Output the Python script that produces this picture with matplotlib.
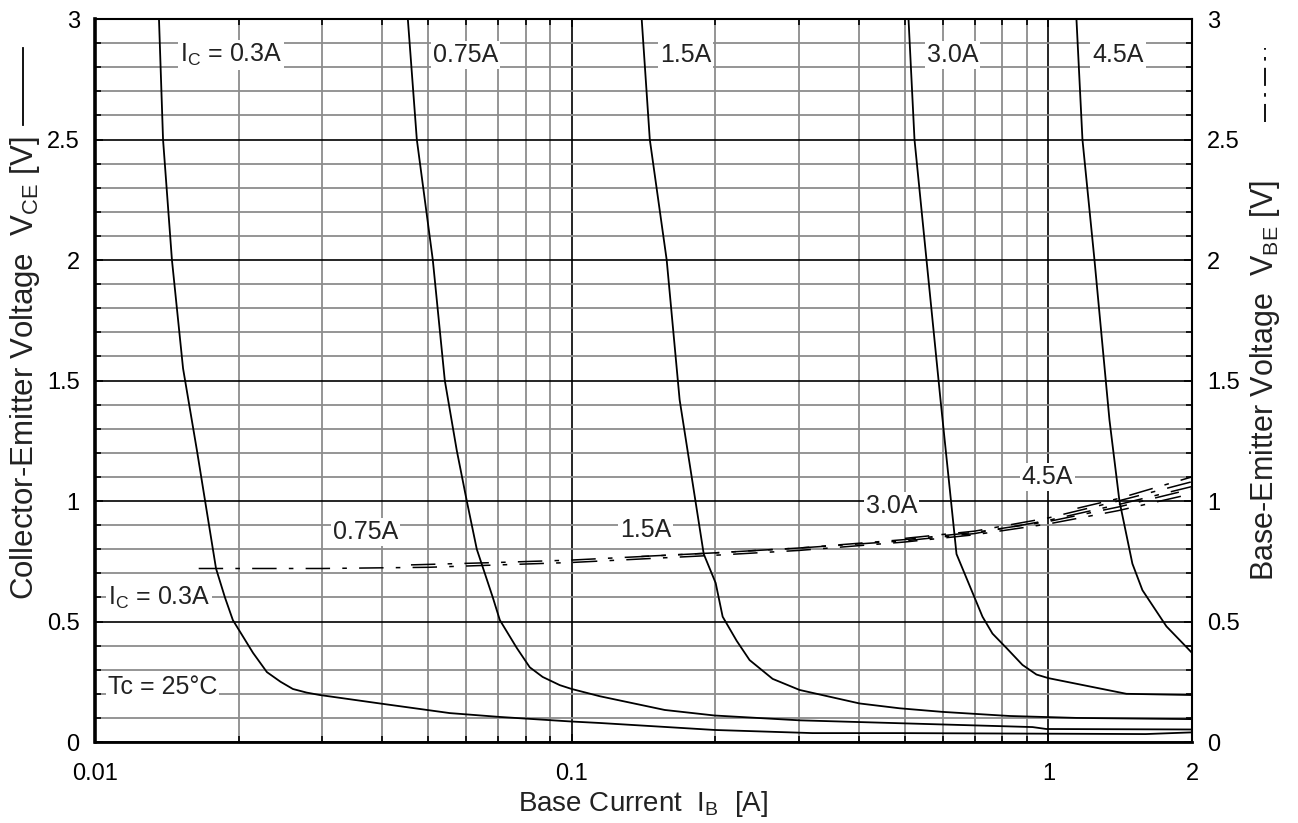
import matplotlib
matplotlib.use("Agg")
import matplotlib.pyplot as plt
from matplotlib.ticker import FixedLocator, FixedFormatter, MultipleLocator, NullFormatter
from matplotlib.lines import Line2D

plt.rcParams["font.family"] = ["Liberation Sans", "DejaVu Sans"]
plt.rcParams["mathtext.fontset"] = "custom"
plt.rcParams["mathtext.rm"] = "Liberation Sans"

#- Data -----------------------------------------------------------------------
# Collector-emitter saturation voltage vs base current, one curve per Ic
ib_03 = [0.01362, 0.01389, 0.0145, 0.0153, 0.01636, 0.01794, 0.01873, 0.01946, 0.02145,
         0.02294, 0.0245, 0.02601, 0.0278, 0.02963, 0.03958, 0.05549, 0.07066, 0.1, 0.1145,
         0.1994, 0.32, 0.487, 1.6, 2.0]
vce_03 = [3.0, 2.5, 2.0, 1.55, 1.21, 0.72, 0.60, 0.506, 0.37,
          0.29, 0.25, 0.22, 0.205, 0.195, 0.16, 0.12, 0.104, 0.085, 0.079,
          0.05, 0.037, 0.037, 0.033, 0.04]

ib_075 = [0.04531, 0.04732, 0.05112, 0.05417, 0.05739, 0.06024, 0.06322, 0.0683, 0.07066,
          0.0767, 0.08166, 0.0869, 0.0944, 0.1, 0.1145, 0.1567, 0.1994, 0.3006, 0.487,
          0.926, 0.99, 2.0]
vce_075 = [3.0, 2.5, 2.0, 1.5, 1.21, 1.0, 0.80, 0.60, 0.506,
           0.39, 0.31, 0.27, 0.236, 0.22, 0.19, 0.133, 0.11, 0.09, 0.078,
           0.062, 0.054, 0.052]

ib_15 = [0.1402, 0.1458, 0.1582, 0.1684, 0.1892, 0.2004, 0.2073, 0.2218, 0.2361, 0.2639,
         0.3006, 0.4016, 0.487, 0.5996, 0.8284, 1.1448, 2.0]
vce_15 = [3.0, 2.5, 2.0, 1.42, 0.78, 0.66, 0.52, 0.42, 0.34, 0.262,
          0.216, 0.16, 0.14, 0.125, 0.108, 0.10, 0.095]

ib_30 = [0.5087, 0.5236, 0.5549, 0.5937, 0.6414, 0.7272, 0.763, 0.8166, 0.882, 0.9437,
         1.0, 1.4576, 2.0]
vce_30 = [3.0, 2.5, 2.0, 1.42, 0.78, 0.52, 0.45, 0.39, 0.32, 0.28,
          0.265, 0.20, 0.195]

ib_45 = [1.1448, 1.1785, 1.249, 1.3428, 1.409, 1.50, 1.5745, 1.7678, 1.956, 2.0]
vce_45 = [3.0, 2.5, 2.0, 1.336, 1.0, 0.74, 0.63, 0.48, 0.39, 0.37]

# Base-emitter saturation voltage vs base current
ibb_03 = [0.0165, 0.03, 0.05, 0.1, 0.2, 0.3, 0.5, 0.7, 1.0, 1.4, 2.0]
vbe_03 = [0.72, 0.72, 0.725, 0.745, 0.775, 0.795, 0.83, 0.86, 0.905, 0.96, 1.03]
ibb_075 = [0.046, 0.07, 0.1, 0.2, 0.3, 0.5, 0.7, 1.0, 1.4, 2.0]
vbe_075 = [0.735, 0.745, 0.755, 0.785, 0.805, 0.84, 0.87, 0.915, 0.975, 1.05]
ibb_15 = [0.14, 0.2, 0.3, 0.5, 0.7, 1.0, 1.4, 2.0]
vbe_15 = [0.77, 0.785, 0.805, 0.835, 0.865, 0.92, 0.985, 1.06]
ibb_30 = [0.5, 0.7, 1.0, 1.4, 2.0]
vbe_30 = [0.845, 0.875, 0.93, 1.0, 1.08]
ibb_45 = [1.15, 1.4, 2.0]
vbe_45 = [0.97, 1.01, 1.10]

x_ticks = [0.01, 0.1, 1, 2]
x_tick_labels = ["0.01", "0.1", "1", "2"]
y_ticks = [0, 0.5, 1, 1.5, 2, 2.5, 3]
y_tick_labels = ["0", "0.5", "1", "1.5", "2", "2.5", "3"]

# curve labels: (text, x, y)
top_labels = [("I$_\\mathregular{C}$ = 0.3A", 0.01507, 2.85), ("0.75A", 0.0511, 2.85),
              ("1.5A", 0.153, 2.85), ("3.0A", 0.555, 2.85), ("4.5A", 1.237, 2.85)]
low_labels = [("0.75A", 0.03155, 0.87), ("I$_\\mathregular{C}$ = 0.3A", 0.01065, 0.60),
              ("Tc = 25\u00b0C", 0.01065, 0.228), ("1.5A", 0.1261, 0.88),
              ("3.0A", 0.4134, 0.98), ("4.5A", 0.878, 1.10)]

#- Figure ---------------------------------------------------------------------
fig = plt.figure(figsize=(12.98, 8.23), dpi=100)
ax = fig.add_axes([0.0732, 0.0984, 0.8451, 0.8785])
ax.set_xscale("log")
ax.set_xlim(0.01, 2)
ax.set_ylim(0, 3)

minor_x = [k * 10.0 ** e for e in (-2, -1, 0) for k in range(2, 10) if k * 10.0 ** e < 2]
ax.xaxis.set_major_locator(FixedLocator(x_ticks))
ax.xaxis.set_major_formatter(FixedFormatter(x_tick_labels))
ax.xaxis.set_minor_locator(FixedLocator(minor_x))
ax.xaxis.set_minor_formatter(NullFormatter())
ax.yaxis.set_major_locator(FixedLocator(y_ticks))
ax.yaxis.set_major_formatter(FixedFormatter(y_tick_labels))
ax.yaxis.set_minor_locator(MultipleLocator(0.1))

ax.grid(which="minor", color="#8c8c8c", lw=1.3)
ax.grid(which="major", color="black", lw=1.2)
ax.tick_params(which="both", direction="in", top=True, right=False, labelsize=17, color="black")
ax.tick_params(which="major", length=6, width=1.2)
ax.tick_params(which="minor", length=4, width=1.2)
ax.tick_params(axis="x", pad=15)
ax.tick_params(axis="y", pad=11)

ax.spines["left"].set_linewidth(2.6)
ax.spines["bottom"].set_linewidth(2.0)
ax.spines["top"].set_linewidth(1.5)
ax.spines["right"].set_linewidth(1.5)

for ib, vce in [(ib_03, vce_03), (ib_075, vce_075), (ib_15, vce_15), (ib_30, vce_30), (ib_45, vce_45)]:
    ax.plot(ib, vce, color="black", lw=1.3, zorder=2)

for text, x, y in top_labels + low_labels:
    ax.text(x, y, text, fontsize=18, color="#222222", ha="left", va="center", zorder=3,
            bbox=dict(facecolor="white", edgecolor="none", pad=1.5))

ax.set_xlabel("Base Current  I$_\\mathregular{B}$  [A]", fontsize=20, color="#222222", labelpad=3)
ax.set_ylabel("Collector-Emitter Voltage  V$_\\mathregular{CE}$ [V]", fontsize=22.5, color="#222222")
ax.yaxis.set_label_coords(-0.048, 0.517)

ax2 = ax.twinx()
ax2.set_ylim(0, 3)
ax2.yaxis.set_major_locator(FixedLocator(y_ticks))
ax2.yaxis.set_major_formatter(FixedFormatter(y_tick_labels))
ax2.yaxis.set_minor_locator(MultipleLocator(0.1))
ax2.tick_params(which="both", direction="in", labelsize=17, pad=11)
ax2.tick_params(which="major", length=6, width=1.2)
ax2.tick_params(which="minor", length=4, width=1.2)
for s in ax2.spines.values():
    s.set_visible(False)
ax2.set_ylabel("Base-Emitter Voltage  V$_\\mathregular{BE}$ [V]", fontsize=22, color="#222222", labelpad=6)

for ib, vbe in [(ibb_03, vbe_03), (ibb_075, vbe_075), (ibb_15, vbe_15), (ibb_30, vbe_30), (ibb_45, vbe_45)]:
    ax2.plot(ib, vbe, color="black", lw=1.1, dashes=(16, 8, 3, 8))

# line-style keys next to the axis titles
fig.add_artist(Line2D([0.0177, 0.0177], [0.848, 0.942], color="black", lw=1.3))
fig.add_artist(Line2D([0.9746, 0.9746], [0.852, 0.942], color="black", lw=1.3, dashes=(10, 4, 2, 4)))

fig.savefig("out.png", dpi=100)
